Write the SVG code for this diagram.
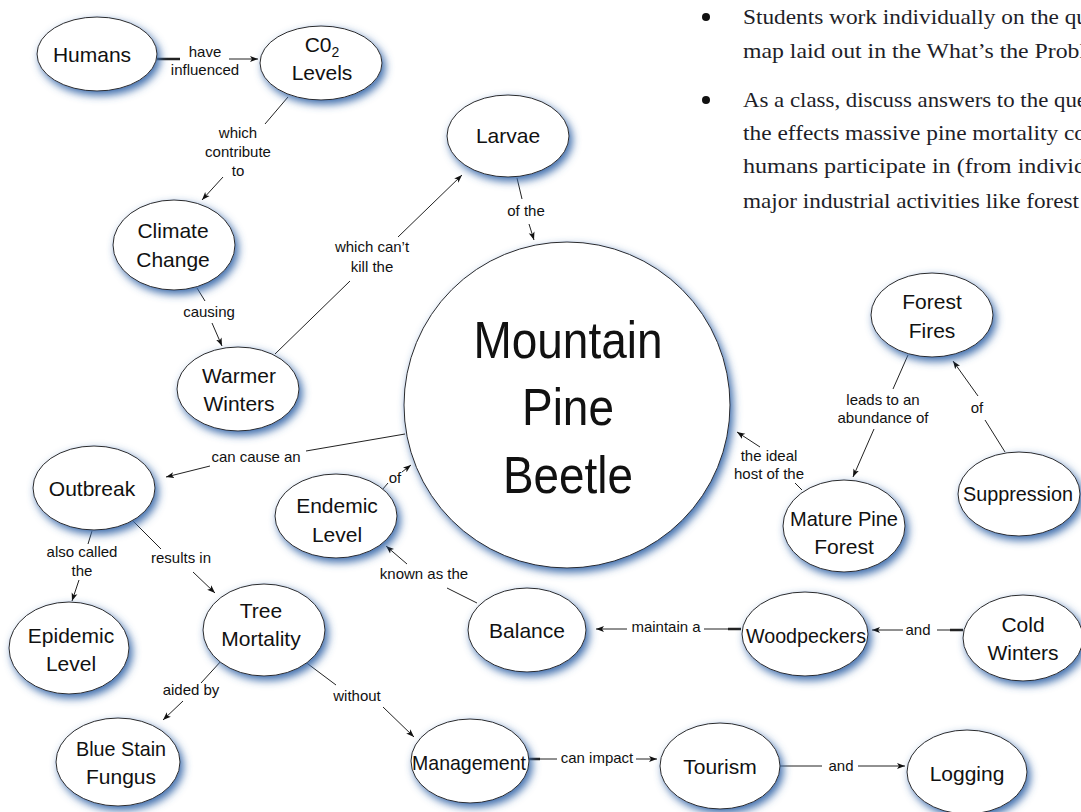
<svg xmlns="http://www.w3.org/2000/svg" width="1081" height="812" viewBox="0 0 1081 812">
<style>
.node ellipse, .node circle { fill: #ffffff; stroke: #2a2a2a; stroke-width: 1; filter: url(#glow); }
.nt { font-family: "Liberation Sans", Arial, sans-serif; font-size: 21px; fill: #111; text-anchor: middle; }
.big { font-family: "Liberation Sans", Arial, sans-serif; font-size: 52px; fill: #111; text-anchor: middle; }
.lt { font-family: "Liberation Sans", Arial, sans-serif; font-size: 15px; fill: #111; text-anchor: middle; }
.c line { stroke: #222; stroke-width: 1; fill: none; }
.c line.a { marker-end: url(#ah); }
.c line.t { stroke-width: 2.5; }
.note { font-family: "Liberation Serif", "Times New Roman", serif; font-size: 22px; fill: #1e1e28; }
</style>
<defs>
<filter id="glow" x="-20%" y="-20%" width="150%" height="150%">
<feGaussianBlur in="SourceAlpha" stdDeviation="4" result="b"/>
<feOffset in="b" dx="3" dy="4" result="o"/>
<feFlood flood-color="#3d6cab"/>
<feComposite in2="o" operator="in" result="s"/>
<feMerge><feMergeNode in="s"/><feMergeNode in="SourceGraphic"/></feMerge>
</filter>
<marker id="ah" markerUnits="userSpaceOnUse" markerWidth="9" markerHeight="7" refX="8" refY="3.5" orient="auto">
<path d="M0,0.5 L8,3.5 L0,6.5 L2,3.5 z" fill="#111"/>
</marker>
</defs>
<rect width="1081" height="812" fill="#ffffff"/>

<g id="notes">
<circle cx="706" cy="17" r="4" fill="#111"/>
<circle cx="706" cy="100" r="4" fill="#111"/>
<text class="note" x="743" y="24" textLength="345" lengthAdjust="spacingAndGlyphs">Students work individually on the qu</text>
<text class="note" x="743" y="58" textLength="343" lengthAdjust="spacingAndGlyphs">map laid out in the What’s the Probl</text>
<text class="note" x="743" y="107" textLength="344" lengthAdjust="spacingAndGlyphs">As a class, discuss answers to the que</text>
<text class="note" x="743" y="140" textLength="343" lengthAdjust="spacingAndGlyphs">the effects massive pine mortality co</text>
<text class="note" x="743" y="173" textLength="343" lengthAdjust="spacingAndGlyphs">humans participate in (from individ</text>
<text class="note" x="743" y="208" textLength="336" lengthAdjust="spacingAndGlyphs">major industrial activities like forest</text>
</g>

<g id="n-mpb" class="node">
<circle cx="567" cy="405" r="163"/>
<text class="big" x="568" y="358" textLength="189" lengthAdjust="spacingAndGlyphs">Mountain</text>
<text class="big" x="568" y="425" textLength="92" lengthAdjust="spacingAndGlyphs">Pine</text>
<text class="big" x="568" y="493" textLength="130" lengthAdjust="spacingAndGlyphs">Beetle</text>
</g>

<g class="c" id="connectors">
<line class="t" x1="157" y1="59" x2="180" y2="59"/>
<line class="a" x1="229" y1="59" x2="258" y2="59"/>
<line x1="288" y1="97" x2="265" y2="124"/>
<line class="a" x1="223" y1="177" x2="202" y2="200"/>
<line x1="197" y1="288" x2="205" y2="301"/>
<line class="a" x1="212" y1="323" x2="222" y2="346"/>
<line x1="275" y1="354" x2="350" y2="281"/>
<line class="a" x1="398" y1="237" x2="462" y2="175"/>
<line x1="517" y1="178" x2="522" y2="199"/>
<line class="a" x1="529" y1="224" x2="534" y2="240"/>
<line x1="405" y1="434" x2="306" y2="451"/>
<line class="a" x1="210" y1="466" x2="166" y2="477"/>
<line x1="382" y1="490" x2="388" y2="483"/>
<line class="a" x1="402" y1="472" x2="411" y2="465"/>
<line x1="477" y1="603" x2="447" y2="588"/>
<line class="a" x1="407" y1="564" x2="386" y2="546"/>
<line x1="92" y1="531" x2="88" y2="544"/>
<line class="a" x1="79" y1="580" x2="72" y2="601"/>
<line x1="133" y1="521" x2="161" y2="549"/>
<line class="a" x1="193" y1="572" x2="215" y2="593"/>
<line x1="222" y1="660" x2="201" y2="683"/>
<line class="a" x1="183" y1="701" x2="163" y2="720"/>
<line x1="300" y1="658" x2="336" y2="685"/>
<line class="a" x1="383" y1="707" x2="414" y2="737"/>
<line class="t" x1="528" y1="759" x2="540" y2="759"/>
<line x1="540" y1="759" x2="557" y2="759"/>
<line class="a" x1="636" y1="759" x2="657" y2="759"/>
<line x1="780" y1="766" x2="822" y2="766"/>
<line class="a" x1="858" y1="766" x2="905" y2="766"/>
<line class="t" x1="728" y1="629" x2="741" y2="629"/>
<line x1="704" y1="629" x2="728" y2="629"/>
<line class="a" x1="627" y1="629" x2="596" y2="629"/>
<line class="t" x1="950" y1="630" x2="963" y2="630"/>
<line x1="937" y1="630" x2="950" y2="630"/>
<line class="a" x1="903" y1="630" x2="872" y2="630"/>
<line x1="802" y1="490" x2="795" y2="483"/>
<line class="a" x1="760" y1="447" x2="737" y2="432"/>
<line x1="908" y1="355" x2="893" y2="389"/>
<line class="a" x1="874" y1="429" x2="853" y2="477"/>
<line x1="1005" y1="452" x2="985" y2="420"/>
<line class="a" x1="978" y1="396" x2="953" y2="361"/>
</g>

<g id="labels">
<text class="lt" x="205" y="57">have</text>
<text class="lt" x="205" y="75">influenced</text>
<text class="lt" x="238" y="138">which</text>
<text class="lt" x="238" y="157">contribute</text>
<text class="lt" x="238" y="176">to</text>
<text class="lt" x="209" y="317">causing</text>
<text class="lt" x="372" y="252">which can’t</text>
<text class="lt" x="372" y="272">kill the</text>
<text class="lt" x="526" y="216">of the</text>
<text class="lt" x="256" y="462">can cause an</text>
<text class="lt" x="395" y="483">of</text>
<text class="lt" x="424" y="579">known as the</text>
<text class="lt" x="82" y="557">also called</text>
<text class="lt" x="82" y="576">the</text>
<text class="lt" x="181" y="563">results in</text>
<text class="lt" x="191" y="695">aided by</text>
<text class="lt" x="357" y="701">without</text>
<text class="lt" x="597" y="763">can impact</text>
<text class="lt" x="841" y="771">and</text>
<text class="lt" x="666" y="632">maintain a</text>
<text class="lt" x="918" y="635">and</text>
<text class="lt" x="769" y="461">the ideal</text>
<text class="lt" x="769" y="479">host of the</text>
<text class="lt" x="883" y="405">leads to an</text>
<text class="lt" x="883" y="423">abundance of</text>
<text class="lt" x="977" y="413">of</text>
</g>

<g id="n-humans" class="node"><ellipse cx="97" cy="54" rx="60" ry="37"/><text class="nt" x="92" y="62">Humans</text></g>
<g id="n-co2" class="node"><ellipse cx="321" cy="63" rx="61" ry="37"/><text class="nt" x="322" y="52">C0<tspan font-size="14" dy="5">2</tspan></text><text class="nt" x="322" y="80">Levels</text></g>
<g id="n-larvae" class="node"><ellipse cx="508" cy="136" rx="61" ry="41"/><text class="nt" x="508" y="143">Larvae</text></g>
<g id="n-climate" class="node"><ellipse cx="174" cy="245" rx="61" ry="45"/><text class="nt" x="173" y="238">Climate</text><text class="nt" x="173" y="267">Change</text></g>
<g id="n-warmer" class="node"><ellipse cx="238" cy="389" rx="61" ry="42"/><text class="nt" x="239" y="383">Warmer</text><text class="nt" x="239" y="411">Winters</text></g>
<g id="n-fires" class="node"><ellipse cx="932" cy="315" rx="61" ry="42"/><text class="nt" x="932" y="309">Forest</text><text class="nt" x="932" y="338">Fires</text></g>
<g id="n-suppression" class="node"><ellipse cx="1019" cy="494" rx="61" ry="42"/><text class="nt" x="1018" y="501" textLength="110" lengthAdjust="spacingAndGlyphs">Suppression</text></g>
<g id="n-mature" class="node"><ellipse cx="844" cy="526" rx="61" ry="46"/><text class="nt" x="844" y="526" textLength="108" lengthAdjust="spacingAndGlyphs">Mature Pine</text><text class="nt" x="844" y="554">Forest</text></g>
<g id="n-outbreak" class="node"><ellipse cx="94" cy="488" rx="61" ry="42"/><text class="nt" x="92" y="496">Outbreak</text></g>
<g id="n-endemic" class="node"><ellipse cx="336" cy="516" rx="61" ry="42"/><text class="nt" x="337" y="513">Endemic</text><text class="nt" x="337" y="542">Level</text></g>
<g id="n-epidemic" class="node"><ellipse cx="69" cy="648" rx="60" ry="46"/><text class="nt" x="71" y="643">Epidemic</text><text class="nt" x="71" y="671">Level</text></g>
<g id="n-tree" class="node"><ellipse cx="264" cy="630" rx="61" ry="46"/><text class="nt" x="261" y="618">Tree</text><text class="nt" x="261" y="646">Mortality</text></g>
<g id="n-balance" class="node"><ellipse cx="527" cy="630" rx="59" ry="42"/><text class="nt" x="527" y="638">Balance</text></g>
<g id="n-woodpeckers" class="node"><ellipse cx="805" cy="634" rx="63" ry="42"/><text class="nt" x="806" y="643" textLength="120" lengthAdjust="spacingAndGlyphs">Woodpeckers</text></g>
<g id="n-cold" class="node"><ellipse cx="1023" cy="638" rx="60" ry="43"/><text class="nt" x="1023" y="632">Cold</text><text class="nt" x="1023" y="660">Winters</text></g>
<g id="n-bluestain" class="node"><ellipse cx="118" cy="762" rx="62" ry="44"/><text class="nt" x="121" y="756" textLength="90" lengthAdjust="spacingAndGlyphs">Blue Stain</text><text class="nt" x="121" y="784">Fungus</text></g>
<g id="n-management" class="node"><ellipse cx="470" cy="761" rx="59" ry="42"/><text class="nt" x="469" y="770" textLength="114" lengthAdjust="spacingAndGlyphs">Management</text></g>
<g id="n-tourism" class="node"><ellipse cx="720" cy="766" rx="60" ry="43"/><text class="nt" x="720" y="774">Tourism</text></g>
<g id="n-logging" class="node"><ellipse cx="967" cy="772" rx="60" ry="42"/><text class="nt" x="967" y="781">Logging</text></g>
</svg>
